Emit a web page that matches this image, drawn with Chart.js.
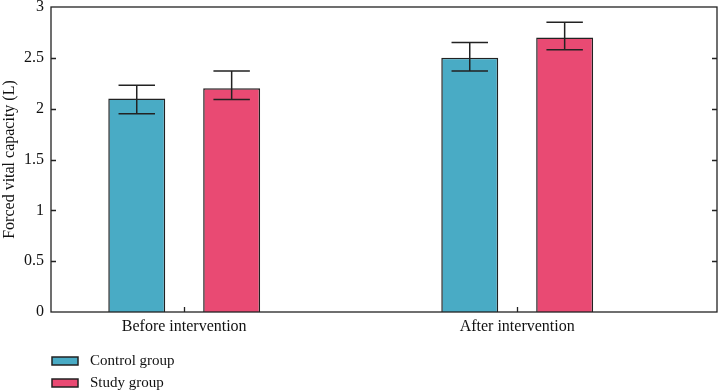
<!DOCTYPE html>
<html>
<head>
<meta charset="utf-8">
<script src="https://cdn.jsdelivr.net/npm/chart.js@4/dist/chart.umd.min.js"></script>
<style>
  html, body { margin: 0; padding: 0; background: #fff; }
  #wrap { width: 720px; height: 391px; }
</style>
</head>
<body>
<div id="wrap"><canvas id="fvcChart" width="720" height="391"></canvas></div>
<script>
const categories = ['Before intervention', 'After intervention'];
const seriesNames = ['Control group', 'Study group'];
const controlMean = [2.10, 2.50];
const controlLow = [1.95, 2.37];
const controlHigh = [2.23, 2.65];
const studyMean = [2.20, 2.70];
const studyLow = [2.09, 2.58];
const studyHigh = [2.37, 2.85];
const yTicks = [0, 0.5, 1, 1.5, 2, 2.5, 3];

const FONT = "'Liberation Serif', 'DejaVu Serif', serif";
const INK = '#222';

function toPoints(vals) {
  return vals.map((v, i) => ({ x: i + 1, y: v }));
}

// error bars drawn from the low/high arrays through the y scale
const errorBars = {
  id: 'errorBars',
  afterDatasetsDraw(chart) {
    const ctx = chart.ctx;
    const y = chart.scales.y;
    ctx.save();
    ctx.strokeStyle = INK;
    ctx.lineWidth = 1.5;
    chart.data.datasets.forEach((ds, di) => {
      const meta = chart.getDatasetMeta(di);
      meta.data.forEach((bar, i) => {
        const top = y.getPixelForValue(ds.errHigh[i]);
        const bot = y.getPixelForValue(ds.errLow[i]);
        const half = bar.width * 0.32;
        ctx.beginPath();
        ctx.moveTo(bar.x, top); ctx.lineTo(bar.x, bot);
        ctx.moveTo(bar.x - half, top); ctx.lineTo(bar.x + half, top);
        ctx.moveTo(bar.x - half, bot); ctx.lineTo(bar.x + half, bot);
        ctx.stroke();
      });
    });
    ctx.restore();
  }
};

// box frame, inner ticks and a stacked legend under the axis
const frame = {
  id: 'frame',
  afterDraw(chart) {
    const ctx = chart.ctx;
    const a = chart.chartArea;
    const y = chart.scales.y, x = chart.scales.x;
    ctx.save();
    ctx.strokeStyle = INK;
    ctx.lineWidth = 1.3;
    ctx.strokeRect(a.left, a.top, a.right - a.left, a.bottom - a.top);
    ctx.beginPath();
    y.ticks.forEach((t, i) => {
      const py = Math.round(y.getPixelForTick(i)) + 0.5;
      if (t.value === 0 || t.value === 3) return;
      ctx.moveTo(a.left, py); ctx.lineTo(a.left + 5, py);
      ctx.moveTo(a.right, py); ctx.lineTo(a.right - 5, py);
    });
    x.ticks.forEach((t, i) => {
      const px = Math.round(x.getPixelForTick(i)) + 0.5;
      ctx.moveTo(px, a.bottom); ctx.lineTo(px, a.bottom - 5);
    });
    ctx.stroke();

    ctx.font = '15px ' + FONT;
    ctx.textBaseline = 'middle';
    chart.data.datasets.forEach((ds, i) => {
      const by = 357 + i * 22;
      ctx.fillStyle = ds.backgroundColor;
      ctx.fillRect(52, by, 26, 8);
      ctx.lineWidth = 1.5;
      ctx.strokeRect(52, by, 26, 8);
      ctx.fillStyle = '#111';
      ctx.fillText(ds.label, 90, by + 4);
    });
    ctx.restore();
  }
};

new Chart(document.getElementById('fvcChart'), {
  type: 'bar',
  data: {
    datasets: [
      {
        label: seriesNames[0],
        data: toPoints(controlMean),
        errLow: controlLow,
        errHigh: controlHigh,
        backgroundColor: '#49abc5',
        borderColor: INK,
        borderWidth: 1.5
      },
      {
        label: seriesNames[1],
        data: toPoints(studyMean),
        errLow: studyLow,
        errHigh: studyHigh,
        backgroundColor: '#e94a73',
        borderColor: INK,
        borderWidth: 1.5
      }
    ]
  },
  options: {
    responsive: false,
    animation: false,
    categoryPercentage: 0.57,
    barPercentage: 0.6,
    layout: { padding: { top: 7, right: 3, bottom: 0, left: 0 } },
    plugins: {
      legend: { display: false },
      tooltip: { enabled: false }
    },
    scales: {
      x: {
        type: 'linear',
        offset: false,
        min: 0.6,
        max: 2.6,
        grid: { display: false, drawTicks: false, tickLength: 0 },
        border: { display: false },
        afterBuildTicks: s => { s.ticks = [{ value: 1 }, { value: 2 }]; },
        afterFit: s => { s.height = 79; s.paddingTop = 0; },
        ticks: {
          color: '#111',
          padding: 5,
          font: { family: FONT, size: 16 },
          callback: v => categories[v - 1]
        }
      },
      y: {
        min: 0,
        max: 3,
        grid: { display: false, drawTicks: false, tickLength: 0 },
        border: { display: false },
        afterBuildTicks: s => { s.ticks = yTicks.map(v => ({ value: v })); },
        afterFit: s => { s.width = 51; s.paddingTop = 0; s.paddingBottom = 0; },
        ticks: {
          color: '#111',
          padding: 7,
          font: { family: FONT, size: 16 },
          callback: v => String(v)
        },
        title: {
          display: true,
          text: 'Forced vital capacity (L)',
          color: '#111',
          padding: { top: 0, bottom: 0 },
          font: { family: FONT, size: 16 }
        }
      }
    }
  },
  plugins: [errorBars, frame]
});
</script>
</body>
</html>
